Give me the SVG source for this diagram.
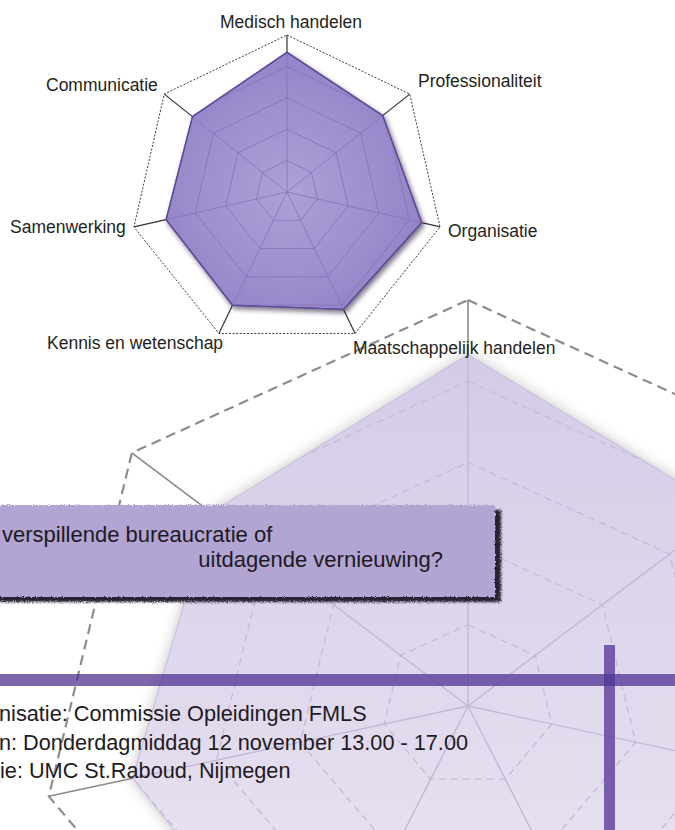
<svg xmlns="http://www.w3.org/2000/svg" width="675" height="830" viewBox="0 0 675 830">
<defs>
<style>
.lbl{font-family:"Liberation Sans",Arial,sans-serif;font-size:17.5px;fill:#231f20}
.ban{font-family:"Liberation Sans",Arial,sans-serif;font-size:22px;fill:#1e1a22}
.info{font-family:"Liberation Sans",Arial,sans-serif;font-size:21.7px;fill:#1e1a22}
.bigOuter{fill:none;stroke:#8d8d8d;stroke-width:2.2;stroke-dasharray:10 6}
.bigExt{stroke:#8a8a8a;stroke-width:1.6}
.bigSpoke{stroke:#c3b8d8;stroke-width:1.4}
.bigGrid{fill:none;stroke:#c6bbdb;stroke-width:1.4;stroke-dasharray:7 5}
.smOuter{fill:none;stroke:#3a3a3a;stroke-width:1;stroke-dasharray:2 1.6}
.smExt{stroke:#333;stroke-width:1.2}
.smGrid{fill:none;stroke:#8270b9;stroke-width:1;stroke-opacity:0.75}
.smSpoke{stroke:#8270b9;stroke-width:1;stroke-opacity:0.75}
.bar{fill:rgb(81,50,149);fill-opacity:0.75}
</style>
<linearGradient id="bigFill" gradientUnits="userSpaceOnUse" x1="0" y1="355" x2="0" y2="830">
<stop offset="0" stop-color="#d5cbe7"/>
<stop offset="1" stop-color="#e5dfef"/>
</linearGradient>
<radialGradient id="smFill" gradientUnits="userSpaceOnUse" cx="287" cy="192" r="150">
<stop offset="0" stop-color="#ada1d7"/>
<stop offset="1" stop-color="#9281c6"/>
</radialGradient>
<filter id="blur7" x="-20%" y="-20%" width="140%" height="140%">
<feGaussianBlur stdDeviation="7"/>
</filter>
<filter id="smShadow" x="-10%" y="-10%" width="120%" height="120%">
<feDropShadow dx="2" dy="3" stdDeviation="2.5" flood-color="#1a1030" flood-opacity="0.6"/>
</filter>
<filter id="rough" x="-5%" y="-10%" width="110%" height="120%">
<feTurbulence type="fractalNoise" baseFrequency="0.9" numOctaves="2" seed="3" result="n"/>
<feDisplacementMap in="SourceGraphic" in2="n" scale="3" xChannelSelector="R" yChannelSelector="G"/>
</filter>
<filter id="roughShadow" x="-5%" y="-10%" width="110%" height="130%">
<feGaussianBlur stdDeviation="1.3" result="b"/>
<feTurbulence type="fractalNoise" baseFrequency="0.7" numOctaves="2" seed="5" result="n"/>
<feDisplacementMap in="b" in2="n" scale="4" xChannelSelector="R" yChannelSelector="G"/>
</filter>
<clipPath id="bigClip">
<polygon points="468,354.8 726.87,511.08 803.38,778.27 617.26,998.63 315.01,1005.95 132.62,778.27 211.15,512.6"/>
</clipPath>
<clipPath id="smClip">
<polygon points="287,52.3 382.7,115.6 421.7,222.7 343.5,309.4 232.5,305.2 166.1,219.6 192.5,116.6"/>
</clipPath>
</defs>
<rect width="675" height="830" fill="#ffffff"/>

<g id="big-chart">
<polygon points="468,354.8 726.87,511.08 803.38,778.27 617.26,998.63 315.01,1005.95 132.62,778.27 211.15,512.6" fill="#6e6e6e" opacity="0.45" filter="url(#blur7)"/>
<polygon points="468,354.8 726.87,511.08 803.38,778.27 617.26,998.63 315.01,1005.95 132.62,778.27 211.15,512.6" fill="url(#bigFill)" stroke="#c8bcde" stroke-width="1"/>
<g clip-path="url(#bigClip)">
<polygon class="bigGrid" points="468,624.8 535.24,655.37 551.84,724.07 505.31,779.16 430.69,779.16 384.16,724.07 400.76,655.37"/>
<polygon class="bigGrid" points="468,543.6 602.48,604.74 635.69,742.14 542.63,852.32 393.37,852.32 300.31,742.14 333.52,604.74"/>
<polygon class="bigGrid" points="468,462.4 669.71,554.12 719.53,760.2 579.94,925.47 356.06,925.47 216.47,760.2 266.29,554.12"/>
<polygon class="bigGrid" points="468,381.2 736.95,503.49 803.38,778.27 617.26,998.63 318.74,998.63 132.62,778.27 199.05,503.49"/>
<line class="bigSpoke" x1="468" y1="706" x2="468" y2="300"/>
<line class="bigSpoke" x1="468" y1="706" x2="804.19" y2="452.86"/>
<line class="bigSpoke" x1="468" y1="706" x2="887.22" y2="796.34"/>
<line class="bigSpoke" x1="468" y1="706" x2="654.57" y2="1071.79"/>
<line class="bigSpoke" x1="468" y1="706" x2="281.43" y2="1071.79"/>
<line class="bigSpoke" x1="468" y1="706" x2="48.78" y2="796.34"/>
<line class="bigSpoke" x1="468" y1="706" x2="131.81" y2="452.86"/>
</g>
<line class="bigExt" x1="468" y1="354.8" x2="468" y2="300"/>
<line class="bigExt" x1="726.87" y1="511.08" x2="804.19" y2="452.86"/>
<line class="bigExt" x1="132.62" y1="778.27" x2="48.78" y2="796.34"/>
<line class="bigExt" x1="211.15" y1="512.6" x2="131.81" y2="452.86"/>
<polygon class="bigOuter" points="468,300 804.19,452.86 887.22,796.34 654.57,1071.79 281.43,1071.79 48.78,796.34 131.81,452.86"/>
</g>

<g id="small-chart">
<polygon class="smOuter" points="287,35 409.75,94.11 440.06,226.94 355.12,333.45 218.88,333.45 133.94,226.94 164.25,94.11"/>
<g id="connectors">
<line class="smExt" x1="287" y1="52.3" x2="287" y2="35"/>
<line class="smExt" x1="382.7" y1="115.6" x2="409.75" y2="94.11"/>
<line class="smExt" x1="421.7" y1="222.7" x2="440.06" y2="226.94"/>
<line class="smExt" x1="343.5" y1="309.4" x2="355.12" y2="333.45"/>
<line class="smExt" x1="232.5" y1="305.2" x2="218.88" y2="333.45"/>
<line class="smExt" x1="166.1" y1="219.6" x2="133.94" y2="226.94"/>
<line class="smExt" x1="192.5" y1="116.6" x2="164.25" y2="94.11"/>
</g>
<polygon points="287,52.3 382.7,115.6 421.7,222.7 343.5,309.4 232.5,305.2 166.1,219.6 192.5,116.6" fill="url(#smFill)" stroke="#5f4b98" stroke-width="1.4" stroke-linejoin="round" filter="url(#smShadow)"/>
<g clip-path="url(#smClip)">
<polygon class="smGrid" points="287,160.6 311.55,172.42 317.61,198.99 300.62,220.29 273.38,220.29 256.39,198.99 262.45,172.42"/>
<polygon class="smGrid" points="287,129.2 336.1,152.84 348.22,205.98 314.25,248.58 259.75,248.58 225.78,205.98 237.9,152.84"/>
<polygon class="smGrid" points="287,97.8 360.65,133.27 378.84,212.96 327.87,276.87 246.13,276.87 195.16,212.96 213.35,133.27"/>
<polygon class="smGrid" points="287,66.4 385.2,113.69 409.45,219.95 341.5,305.16 232.5,305.16 164.55,219.95 188.8,113.69"/>
<line class="smSpoke" x1="287" y1="192" x2="287" y2="35"/>
<line class="smSpoke" x1="287" y1="192" x2="409.75" y2="94.11"/>
<line class="smSpoke" x1="287" y1="192" x2="440.06" y2="226.94"/>
<line class="smSpoke" x1="287" y1="192" x2="355.12" y2="333.45"/>
<line class="smSpoke" x1="287" y1="192" x2="218.88" y2="333.45"/>
<line class="smSpoke" x1="287" y1="192" x2="133.94" y2="226.94"/>
<line class="smSpoke" x1="287" y1="192" x2="164.25" y2="94.11"/>
</g>
<polygon points="287,52.3 382.7,115.6 421.7,222.7 343.5,309.4 232.5,305.2 166.1,219.6 192.5,116.6" fill="none" stroke="#5f4b98" stroke-width="1.2" stroke-linejoin="round"/>
</g>

<g id="label-medisch"><text class="lbl" x="220" y="28">Medisch handelen</text></g>
<g id="label-communicatie"><text class="lbl" x="46" y="91">Communicatie</text></g>
<g id="label-professionaliteit"><text class="lbl" x="418" y="87">Professionaliteit</text></g>
<g id="label-samenwerking"><text class="lbl" x="10" y="233">Samenwerking</text></g>
<g id="label-organisatie"><text class="lbl" x="448" y="237">Organisatie</text></g>
<g id="label-kennis"><text class="lbl" x="47" y="349">Kennis en wetenschap</text></g>
<g id="label-maatschappelijk"><text class="lbl" x="353" y="354">Maatschappelijk handelen</text></g>

<g id="banner">
<rect x="-10" y="510" width="511" height="92" fill="#2a2230" filter="url(#roughShadow)"/>
<rect x="-10" y="505" width="505" height="92" fill="#b2a4d3" filter="url(#rough)"/>
<text class="ban" x="2" y="542">verspillende bureaucratie of</text>
<text class="ban" x="443" y="567" text-anchor="end">uitdagende vernieuwing?</text>
</g>

<g id="bars">
<rect class="bar" x="0" y="674" width="675" height="12"/>
<rect class="bar" x="604" y="645" width="11" height="185"/>
</g>

<g id="info">
<text class="info" x="-1" y="721">nisatie: Commissie Opleidingen FMLS</text>
<text class="info" x="-1" y="750">n: Donderdagmiddag 12 november 13.00 - 17.00</text>
<text class="info" x="0" y="778">ie: UMC St.Raboud, Nijmegen</text>
</g>
</svg>
